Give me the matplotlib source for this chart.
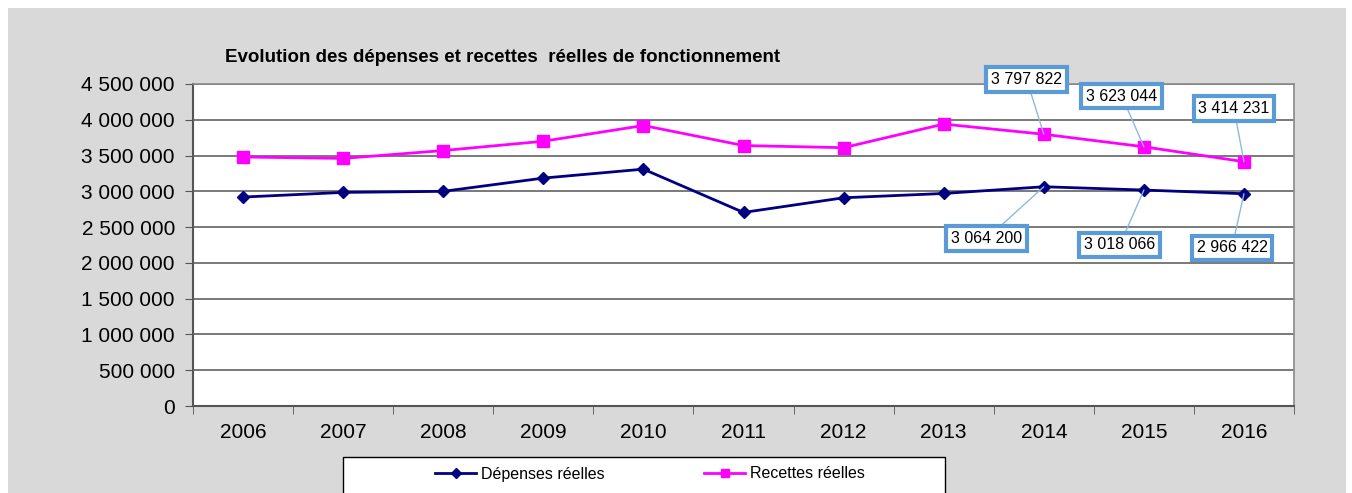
import matplotlib.pyplot as plt
from matplotlib.ticker import FuncFormatter

years = ["2006", "2007", "2008", "2009", "2010", "2011",
         "2012", "2013", "2014", "2015", "2016"]
depenses = [2920000, 2985000, 3000000, 3185000, 3310000, 2705000,
            2910000, 2970000, 3064200, 3018066, 2966422]
recettes = [3480000, 3460000, 3570000, 3700000, 3920000, 3640000,
            3610000, 3940000, 3797822, 3623044, 3414231]

# labelled points: (index, label box position in data coords)
labels_rec = [(8, 7.83, 4560000), (9, 8.78, 4330000), (10, 9.9, 4160000)]
labels_dep = [(8, 7.43, 2340000), (9, 8.76, 2250000), (10, 9.88, 2210000)]


def fmt(v, pos=None):
    return f"{int(v):,}".replace(",", " ")


plt.rcParams['font.family'] = ['Liberation Sans', 'DejaVu Sans']

fig = plt.figure(figsize=(13.52, 4.93), dpi=100)
fig.patch.set_facecolor('white')
bg = plt.Rectangle((8 / 1352, 0), 1338 / 1352, 485 / 493, transform=fig.transFigure,
                   facecolor='#d9d9d9', edgecolor='none', zorder=-10)
fig.patches.append(bg)
legbox = plt.Rectangle((343 / 1352, -0.01), 602 / 1352, (36 / 493) + 0.01,
                       transform=fig.transFigure, facecolor='white',
                       edgecolor='black', linewidth=1, zorder=-5)
fig.patches.append(legbox)

ax = fig.add_axes([193 / 1352, (493 - 406) / 493, 1101 / 1352, 322 / 493])
ax.set_facecolor('white')

x = list(range(len(years)))
ax.plot(x, depenses, color='#000080', marker='D', markersize=6, linewidth=2,
        label='Dépenses réelles', zorder=3)
ax.plot(x, recettes, color='#ff00ff', marker='s', markersize=8, linewidth=2,
        label='Recettes réelles', zorder=3)

ax.set_xlim(-0.5, len(years) - 0.5)
ax.set_ylim(0, 4500000)
ax.set_yticks(range(0, 4500001, 500000))
ax.yaxis.set_major_formatter(FuncFormatter(fmt))
ax.set_xticks(x)
ax.set_xticklabels(years)
ax.set_xticks([i - 0.5 for i in range(len(years) + 1)], minor=True)
ax.tick_params(axis='x', which='major', length=0, pad=12, labelsize=15)
ax.tick_params(axis='x', which='minor', length=6, color='#555555')
ax.tick_params(axis='y', length=6, color='#555555', labelsize=15, pad=7)
ax.grid(axis='y', color='#6e6e6e', linewidth=1.3)
ax.set_axisbelow(True)
for side in ['left', 'bottom']:
    ax.spines[side].set_color('#555555')
    ax.spines[side].set_linewidth(1.5)
for side in ['top', 'right']:
    ax.spines[side].set_color('#8a8a8a')
    ax.spines[side].set_linewidth(1.2)

box = dict(boxstyle='square,pad=0.3', facecolor='white', edgecolor='#5b9bd5', linewidth=3)
arrow = dict(arrowstyle='-', color='#8fb8e0', linewidth=1, shrinkA=0, shrinkB=0)
for i, bx, by in labels_rec:
    ax.annotate(fmt(recettes[i]), xy=(i, recettes[i]), xytext=(bx, by),
                ha='center', va='center', fontsize=11.5, bbox=box, arrowprops=arrow,
                annotation_clip=False, zorder=5)
for i, bx, by in labels_dep:
    ax.annotate(fmt(depenses[i]), xy=(i, depenses[i]), xytext=(bx, by),
                ha='center', va='center', fontsize=11.5, bbox=box, arrowprops=arrow,
                annotation_clip=False, zorder=5)

fig.text(225 / 1352, 1 - 57 / 493, "Evolution des dépenses et recettes  réelles de fonctionnement",
         fontsize=13.5, fontweight='bold', ha='left', va='center')

leg = fig.legend(loc='center', bbox_to_anchor=(650 / 1352, 1 - 474 / 493), ncol=2,
                 frameon=False, fontsize=11.5, columnspacing=6.2,
                 handlelength=2.6, handletextpad=0.3, markerscale=0.8)

fig.savefig('out.png', dpi=100, facecolor=fig.get_facecolor())
